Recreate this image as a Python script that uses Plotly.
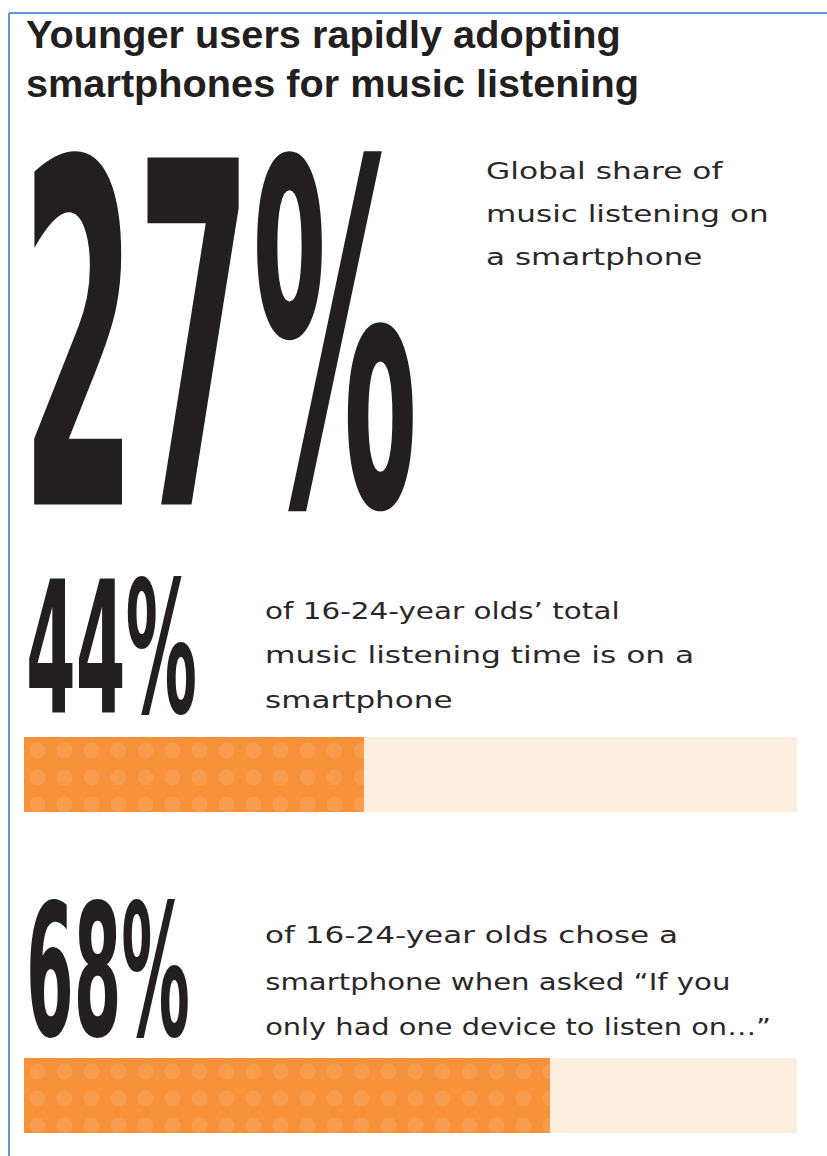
import json
import plotly.graph_objects as go

W, H = 827, 1156

# ---- content -------------------------------------------------------------
title_lines = ["Younger users rapidly adopting", "smartphones for music listening"]
headline_value = 27
headline_lines = ["Global share of", "music listening on", "a smartphone"]
stat_values = [44, 68]
stat_lines = [
    ["of 16-24-year olds\u2019 total", "music listening time is on a", "smartphone"],
    ["of 16-24-year olds chose a", "smartphone when asked \u201cIf you",
     "only had one device to listen on\u2026\u201d"],
]

# ---- styling ---------------------------------------------------------------
INK = "#231F20"
BODY_INK = "#2B2728"
ORANGE = "#F7923A"
DOT = "#F9A862"
TRACK = "#FCEEDF"
FRAME = "#5B9BD5"
BIG_FONT = "Liberation Sans Narrow, DejaVu Sans Condensed, Liberation Sans, sans-serif"
BODY_FONT = "DejaVu Sans, Liberation Sans, sans-serif"
TITLE_FONT = "Liberation Sans, Arial, sans-serif"


def px(x):
    return x / W


def py(y):
    return 1 - y / H


fig = go.Figure()

# progress bars: a full-width track with the share drawn on top of it
bar_rows = [(737, 812), (1058, 1133)]
bar_left, bar_right = 24, 797
for i, v in enumerate(stat_values):
    yax = "y" if i == 0 else f"y{i + 1}"
    fig.add_trace(go.Bar(
        x=[100], y=["share"], orientation="h", xaxis="x", yaxis=yax,
        marker=dict(color=TRACK, line_width=0),
        hoverinfo="skip", showlegend=False))
    fig.add_trace(go.Bar(
        x=[v], y=["share"], orientation="h", xaxis="x", yaxis=yax,
        marker=dict(color=ORANGE, line_width=0,
                    pattern=dict(shape=".", fgcolor=DOT, size=27,
                                 solidity=0.27, fillmode="overlay")),
        hoverinfo="skip", showlegend=False))

annotations = []
fits = {}


def add_text(text, x, baseline, size, family, weight="normal", color=INK, fit=None):
    idx = len(annotations)
    annotations.append(dict(
        text=text, x=px(x), y=py(baseline - 0.35 * size),
        xref="paper", yref="paper", xanchor="left", yanchor="middle",
        showarrow=False, borderpad=0,
        font=dict(family=family, size=size, color=color, weight=weight)))
    if fit:
        fits[str(idx)] = fit


# big figures (condensed, stretched to their boxes)
add_text(f"{headline_value}%", 20, 509, 250, BIG_FONT, "bold",
         fit=dict(w=397, h=341, fs=250))
add_text(f"{stat_values[0]}%", 25, 713, 100, BIG_FONT, "bold",
         fit=dict(w=171, h=132, fs=100))
add_text(f"{stat_values[1]}%", 25, 1036, 100, BIG_FONT, "bold",
         fit=dict(w=164, h=132, fs=100))

# title
for line, base in zip(title_lines, [48, 97]):
    add_text(line, 25, base, 39.7, TITLE_FONT, "bold")

# descriptive copy, widened to the wide grotesque of the original layout
headline_sx = [1.36, 1.35, 1.35]
stat_sx = [[1.28, 1.36, 1.35], [1.35, 1.27, 1.255]]
for line, base, sx in zip(headline_lines, [179, 222, 265], headline_sx):
    add_text(line, 485, base, 23, BODY_FONT, color=BODY_INK, fit=dict(sx=sx, sy=1))
for line, base, sx in zip(stat_lines[0], [619, 663, 708], stat_sx[0]):
    add_text(line, 264, base, 23, BODY_FONT, color=BODY_INK, fit=dict(sx=sx, sy=1))
for line, base, sx in zip(stat_lines[1], [943, 990, 1035], stat_sx[1]):
    add_text(line, 264, base, 23, BODY_FONT, color=BODY_INK, fit=dict(sx=sx, sy=1))

frame = [
    dict(type="line", xref="paper", yref="paper", x0=px(9), x1=px(9),
         y0=py(13), y1=0, line=dict(color=FRAME, width=2)),
    dict(type="line", xref="paper", yref="paper", x0=px(9), x1=1,
         y0=py(13), y1=py(13), line=dict(color=FRAME, width=2)),
]

fig.update_layout(
    width=W, height=H, margin=dict(l=0, r=0, t=0, b=0),
    paper_bgcolor="white", plot_bgcolor="white",
    barmode="overlay", bargap=0,
    xaxis=dict(range=[0, 100], domain=[px(bar_left), px(bar_right)],
               visible=False, fixedrange=True),
    yaxis=dict(domain=[py(bar_rows[0][1]), py(bar_rows[0][0])],
               range=[-0.5, 0.5], visible=False, fixedrange=True),
    yaxis2=dict(domain=[py(bar_rows[1][1]), py(bar_rows[1][0])],
                range=[-0.5, 0.5], visible=False, fixedrange=True),
    annotations=annotations, shapes=frame, showlegend=False,
)

# stretch selected labels about their baseline-left point
stretch_js = """
var gd = document.getElementById('{plot_id}');
var fits = FITS;
gd.querySelectorAll('g.annotation').forEach(function(g){
  var f = fits[g.getAttribute('data-index')];
  if(!f) return;
  var t = g.querySelector('text.annotation-text');
  var b = t.getBBox();
  var ox = b.x, oy = b.y + 0.81 * b.height;
  var sx = f.sx || f.w / b.width;
  var sy = f.sy || f.h / (0.716 * f.fs);
  t.setAttribute('transform', 'translate(' + ox + ',' + oy + ') scale(' + sx + ',' + sy + ') translate(' + (-ox) + ',' + (-oy) + ')');
});
""".replace("FITS", json.dumps(fits))

fig.write_html("out.html", config=dict(displayModeBar=False, staticPlot=True),
               post_script=stretch_js)
